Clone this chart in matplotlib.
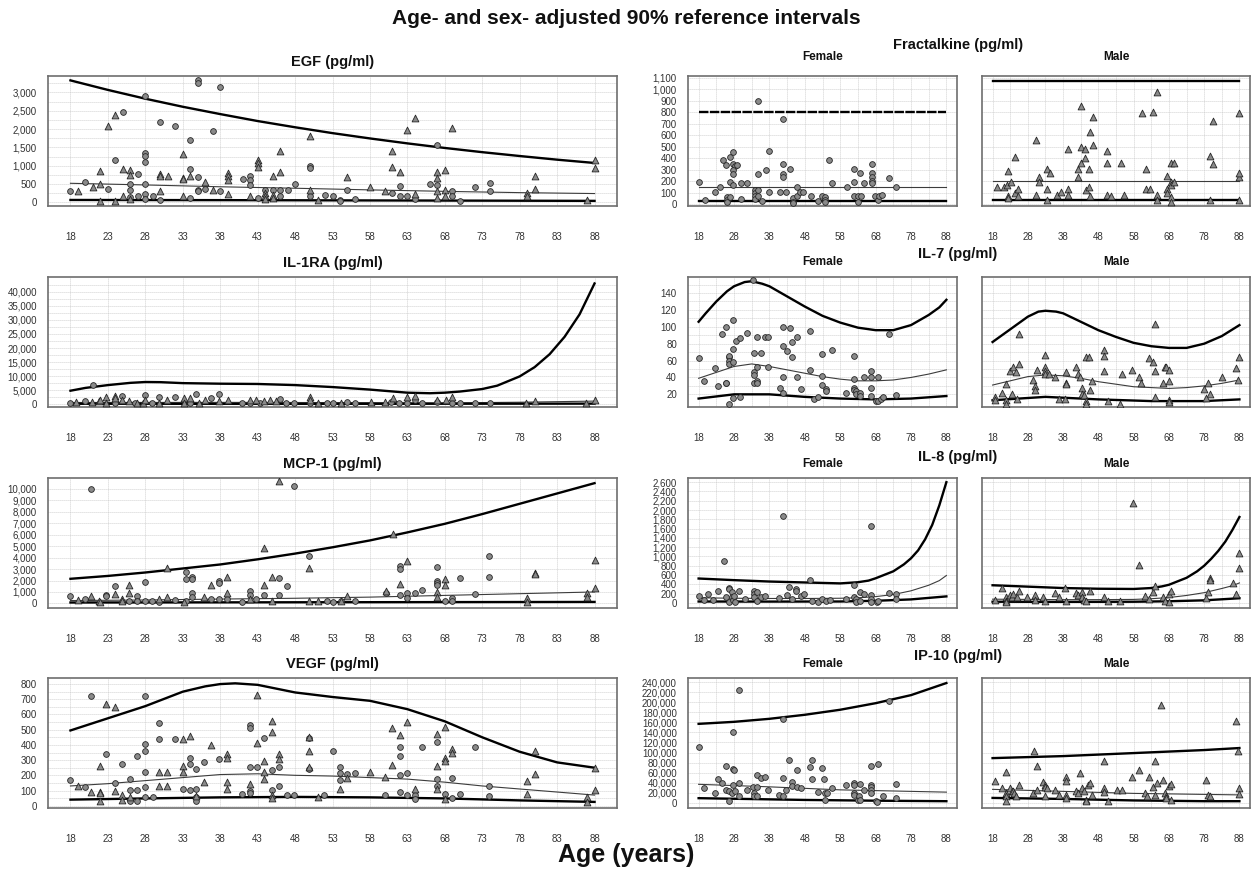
"""Age- and sex-adjusted 90% reference intervals, cytokine panels."""

import matplotlib
matplotlib.use("Agg")  # no display
import matplotlib.pyplot as plt
import numpy as np
from matplotlib.ticker import FuncFormatter

plt.rcParams["font.family"] = ["Liberation Sans", "DejaVu Sans"]

# ---------------------------------------------------------------- data
# points are (age, value); curves are (age, value) knots

# EGF (both sexes in one panel)
egf_female = [(18, 318), (20, 564), (23, 364), (24, 1145), (25, 2463), (26, 491), (26, 345), (26, 145),
              (27, 773), (27, 164), (28, 2891), (28, 1345), (28, 1273), (28, 1091), (28, 509), (28, 236),
              (28, 100), (29, 164), (30, 2191), (30, 73), (32, 2091), (34, 1691), (34, 909), (34, 118),
              (35, 3345), (35, 3254), (35, 691), (35, 345), (35, 300), (36, 364), (37, 1954), (38, 3145),
              (38, 300), (41, 636), (42, 709), (42, 618), (42, 482), (43, 118), (44, 345), (45, 345),
              (46, 345), (46, 182), (47, 327), (48, 509), (50, 982), (50, 936), (50, 164), (52, 209),
              (53, 164), (54, 73), (54, 27), (55, 345), (56, 100), (61, 254), (62, 436), (62, 164),
              (63, 164), (64, 91), (66, 491), (67, 1573), (67, 482), (69, 300), (69, 164), (70, 27),
              (72, 427), (74, 536), (74, 300)]
egf_male = [(19, 318), (21, 418), (22, 491), (22, 845), (22, 30), (23, 2073), (24, 2373), (24, 30),
            (25, 918), (25, 164), (26, 873), (26, 736), (26, 100), (30, 773), (30, 727), (30, 318),
            (31, 727), (33, 1327), (33, 664), (33, 636), (33, 164), (34, 709), (36, 545), (37, 327),
            (39, 800), (39, 727), (39, 618), (39, 236), (42, 164), (43, 1164), (43, 1073), (43, 964),
            (44, 254), (44, 164), (44, 91), (45, 727), (45, 209), (45, 118), (46, 1391), (46, 818),
            (50, 1818), (50, 345), (51, 73), (55, 691), (58, 409), (60, 300), (61, 1391), (61, 964),
            (62, 827), (63, 1982), (64, 2300), (64, 236), (67, 818), (67, 664), (67, 300), (67, 118),
            (68, 891), (68, 345), (68, 164), (69, 2027), (79, 264), (79, 164), (80, 718), (80, 355),
            (87, 73), (88, 1164), (88, 936)]
egf_upper = [(18, 3330), (23, 3070), (28, 2830), (33, 2610), (38, 2410), (43, 2220), (48, 2050), (53, 1890),
             (58, 1745), (63, 1610), (68, 1485), (73, 1370), (78, 1265), (83, 1165), (88, 1075)]
egf_median = [(18, 520), (28, 475), (38, 425), (48, 385), (58, 340), (68, 300), (78, 265), (88, 240)]
egf_lower = [(18, 65), (38, 60), (58, 52), (88, 40)]

# IL-1RA
il1ra_female = [(18, 600), (19.9, 1070), (21, 7000), (23.9, 400), (24.9, 3000), (26.6, 400), (28, 3200),
                (28.9, 300), (29.8, 2600), (32, 2500), (33.9, 500), (34.8, 3460), (36.8, 2270), (37.9, 3460),
                (40.9, 600), (42, 500), (43.3, 400), (46, 2000), (46.8, 500), (47.9, 400), (50, 400),
                (52.2, 400), (53, 300), (54.9, 800), (56, 400), (60.8, 800), (61.9, 500), (63, 500),
                (64, 1400), (64.9, 400), (67, 800), (68.9, 400), (70, 400), (72.1, 500), (74, 500)]
il1ra_male = [(18.8, 840), (20.9, 840), (21.8, 1070), (22, 1430), (22.8, 2630), (22.8, 600), (23.9, 2990),
              (23.9, 2030), (24.9, 1430), (25.8, 1070), (26.9, 600), (27.7, 600), (28, 1430), (29.8, 600),
              (30.9, 1430), (33.1, 2030), (33.1, 600), (33.9, 2030), (35.2, 600), (36, 1430), (37.9, 1070),
              (39, 1430), (42, 1430), (42.8, 1430), (43.8, 1070), (44.7, 1430), (45.5, 1070), (50, 2630),
              (50, 1430), (51.1, 600), (54.1, 600), (58.1, 700), (60, 700), (61.1, 2030), (63, 2630),
              (64, 2990), (67, 1430), (68.1, 1430), (68.9, 2630), (78.9, 600), (80, 1070), (86.9, 500),
              (88, 1670)]
il1ra_upper = [(18, 4800), (20, 5800), (23, 6800), (26, 7600), (28, 7900), (30, 7850), (33, 7500), (38, 7300),
               (43, 7200), (48, 6800), (53, 6100), (58, 5200), (63, 4100), (66, 3900), (68, 4100), (70, 4500),
               (73, 5400), (75, 6600), (78, 9900), (80, 13200), (82, 17800), (84, 24000), (86, 32000),
               (88, 43000)]
il1ra_median = [(18, 600), (38, 650), (58, 550), (68, 450), (78, 700), (88, 1100)]
il1ra_lower = [(18, 150), (48, 120), (88, 200)]

# MCP-1
mcp1_female = [(18, 690), (20, 400), (20.8, 10030), (22.8, 770), (22.8, 630), (23.9, 1490), (25.8, 250),
               (26.9, 630), (26.9, 200), (28, 1830), (28, 200), (28.9, 200), (29.8, 150), (32, 300),
               (33.4, 2780), (33.4, 2150), (33.4, 200), (34.3, 2350), (34.3, 2150), (34.3, 920), (34.3, 550),
               (36.8, 400), (37.9, 1920), (37.9, 1780), (37.9, 350), (38.9, 350), (40.9, 100), (42, 1060),
               (42, 770), (42.8, 350), (43.8, 700), (45.9, 2260), (45.9, 770), (46.9, 1550), (47.9, 10290),
               (49.9, 4150), (52.2, 250), (53, 100), (54.1, 200), (56, 250), (60.1, 920), (62, 3290),
               (62, 3000), (62, 770), (63, 920), (63, 490), (64, 920), (65, 1200), (67, 3150), (67, 1980),
               (67, 1780), (67, 1580), (68, 200), (69, 490), (69, 200), (70, 2210), (72, 860), (73.9, 4150),
               (73.9, 2290)]
mcp1_male = [(19, 290), (20.8, 630), (21.8, 200), (21.9, 100), (23.9, 830), (24.9, 350), (24.9, 200),
             (25.8, 1580), (25.8, 920), (29.8, 350), (30.9, 3070), (30.9, 570), (33.1, 100), (35.9, 570),
             (36.8, 1580), (38.9, 2290), (38.9, 920), (42, 350), (43.9, 4870), (43.9, 1580), (44.9, 2320),
             (44.9, 200), (45.9, 10660), (49.9, 3070), (49.9, 200), (51.1, 200), (54.1, 200), (54.9, 630),
             (60.1, 1060), (61.1, 6070), (62, 1720), (63, 3700), (67, 970), (67, 550), (68, 2150),
             (68, 1580), (79, 490), (79, 100), (80, 2640), (80, 2550), (87, 920), (87, 570), (88, 3780),
             (88, 1350)]
mcp1_upper = [(18, 2150), (23, 2400), (28, 2700), (33, 3050), (38, 3400), (43, 3850), (48, 4350), (53, 4900),
              (58, 5500), (63, 6200), (68, 6950), (73, 7800), (78, 8700), (83, 9600), (88, 10500)]
mcp1_median = [(18, 250), (28, 300), (38, 380), (48, 450), (58, 550), (68, 700), (78, 850), (88, 1000)]
mcp1_lower = [(18, 80), (48, 100), (88, 130)]

# VEGF
vegf_female = [(18, 168), (20, 126), (20.8, 720), (22.8, 338), (23.9, 148), (24.9, 272), (25.9, 174),
               (25.9, 102), (25.9, 28), (26.9, 327), (26.9, 102), (26.9, 33), (28, 720), (28, 403), (28, 360),
               (28, 222), (28, 120), (28, 55), (29, 55), (29.8, 545), (29.8, 436), (32, 436), (33, 109),
               (33.9, 316), (33.9, 272), (33.9, 102), (34.8, 240), (34.8, 109), (34.8, 55), (34.8, 33),
               (35.9, 288), (37.9, 305), (40.9, 76), (42, 534), (42, 512), (42, 255), (42, 98), (42, 83),
               (42.9, 255), (43.8, 443), (44.9, 233), (44.9, 102), (45.9, 257), (45.9, 131), (46.9, 72),
               (47.9, 72), (49.9, 443), (49.9, 240), (51.9, 72), (53, 360), (54, 255), (54, 218), (54, 170),
               (54.9, 211), (56, 218), (60, 72), (62, 386), (62, 327), (62, 203), (62, 87), (63, 218),
               (63, 72), (64, 72), (64, 44), (65, 386), (67, 421), (67, 174), (67, 131), (68, 76), (69, 185),
               (69, 50), (70, 76), (72, 386), (73.9, 131), (73.9, 65)]
vegf_male = [(19, 131), (20.8, 87), (21.9, 262), (21.9, 92), (21.9, 81), (21.9, 33), (22.8, 671), (23.9, 647),
             (23.9, 98), (24.9, 72), (24.9, 37), (25.9, 55), (29.8, 222), (29.8, 131), (30.9, 222),
             (30.9, 131), (33, 436), (33, 262), (33, 222), (33.9, 458), (34.8, 65), (35.9, 153), (36.8, 399),
             (38.9, 338), (38.9, 316), (38.9, 153), (38.9, 113), (42, 142), (42.9, 726), (42.9, 414),
             (43.8, 294), (43.8, 222), (43.8, 174), (44.9, 556), (44.9, 486), (44.9, 72), (44.9, 50),
             (45.9, 338), (45.9, 310), (49.9, 451), (49.9, 360), (49.9, 257), (51, 55), (54, 109),
             (54.9, 185), (58, 224), (60, 190), (61, 508), (61, 268), (62, 464), (63, 552), (64, 109),
             (67, 469), (67, 262), (67, 109), (68, 517), (68, 316), (68, 294), (68, 44), (69, 371), (69, 349),
             (79, 163), (79, 76), (80, 360), (80, 211), (87, 59), (87, 22), (88, 251), (88, 102)]
vegf_upper = [(18, 495), (23, 575), (28, 655), (33, 750), (36, 785), (38, 800), (40, 805), (43, 795), (48, 745),
              (53, 715), (58, 690), (63, 635), (68, 555), (73, 450), (78, 355), (83, 285), (88, 250)]
vegf_median = [(18, 130), (23, 145), (28, 165), (33, 185), (38, 205), (43, 210), (48, 200), (53, 195),
               (58, 185), (63, 175), (68, 155), (73, 130), (78, 110), (83, 90), (88, 70)]
vegf_lower = [(18, 40), (28, 48), (38, 55), (48, 58), (58, 55), (68, 48), (78, 35), (88, 25)]

# Fractalkine (split by sex)
frac_female = [(18, 191), (19.9, 35), (22.7, 110), (23.9, 153), (24.8, 387), (25.7, 344), (25.9, 66),
               (25.9, 38), (25.9, 23), (26.8, 407), (26.8, 197), (26.8, 66), (27.8, 451), (27.8, 350),
               (28.3, 330), (27.8, 300), (27.8, 265), (27.8, 170), (28.8, 344), (29.9, 46), (29.9, 182),
               (31.8, 182), (33.9, 125), (33.9, 100), (33.9, 75), (33.9, 45), (34.9, 900), (34.9, 266),
               (34.9, 124), (34.9, 75), (36, 26), (36.9, 295), (37.8, 462), (37.8, 110), (40.9, 110),
               (41.8, 745), (41.8, 350), (41.8, 263), (41.8, 237), (42.8, 110), (43.9, 303), (44.8, 52),
               (44.8, 23), (44.8, 9), (45.7, 147), (45.7, 75), (46.7, 110), (47.6, 110), (49.8, 75),
               (51.8, 32), (52.9, 75), (53.8, 66), (53.8, 38), (53.8, 17), (54.9, 387), (55.8, 182),
               (59.9, 153), (61.9, 303), (61.9, 191), (62, 75), (63, 75), (63, 23), (63.7, 269), (64, 75),
               (64.8, 182), (66.9, 347), (66.9, 269), (66.9, 234), (66.9, 202), (66.9, 182), (67.8, 75),
               (68.7, 38), (69, 75), (69.9, 81), (71.8, 231), (73.9, 153)]
frac_male = [(19.2, 154), (21.3, 154), (22.2, 168), (22.4, 293), (22.4, 75), (22.4, 52), (23.3, 191),
             (24.3, 412), (24.3, 96), (25.3, 130), (25.3, 75), (30.3, 560), (30.3, 81), (31.2, 235),
             (31.2, 191), (33.4, 38), (33.4, 305), (34.3, 276), (33.4, 133), (36.4, 81), (37.3, 104),
             (39.3, 479), (39.3, 130), (39.4, 81), (42.3, 305), (42.3, 235), (43.2, 502), (43.2, 856),
             (43.2, 357), (44.2, 481), (44.2, 400), (44.5, 125), (45.4, 154), (45.4, 305), (45.6, 626),
             (46.5, 757), (46.5, 516), (45.5, 75), (50.5, 467), (50.5, 357), (50.5, 81), (51.7, 75),
             (54.4, 357), (55.3, 81), (60.3, 792), (61.4, 305), (61.4, 133), (62.5, 134), (63.5, 806),
             (64.5, 974), (64.5, 81), (64.5, 38), (67.5, 247), (67.5, 133), (67.5, 96), (68.5, 191),
             (68.5, 168), (68.5, 67), (68.5, 17), (69.5, 191), (68.5, 357), (69.5, 357), (79.6, 423),
             (79.6, 38), (80.6, 725), (80.6, 348), (87.8, 241), (88, 276), (87.8, 38), (88, 792)]
frac_female_upper = [(18, 800), (88, 800)]
frac_female_median = [(18, 150), (88, 150)]
frac_female_lower = [(18, 27), (88, 27)]
frac_male_upper = [(18, 1070), (88, 1070)]
frac_male_median = [(18, 200), (88, 200)]
frac_male_lower = [(18, 38), (88, 38)]

# IL-7
il7_female = [(18, 62.5), (19.4, 35.5), (22.5, 51), (23.6, 30), (24.7, 92), (25.6, 100), (25.6, 34),
              (25.6, 33), (26.7, 64), (26.7, 66), (26.7, 60), (26.7, 56), (26.7, 9), (27.6, 108), (27.6, 73.6),
              (27.6, 58), (27.6, 16), (28.7, 83), (29.8, 87), (29.8, 17), (31.7, 93), (33.4, 155),
              (33.6, 68.5), (33.6, 46), (33.6, 42.6), (33.6, 34), (34.5, 88), (34.5, 36), (34.5, 33),
              (34.5, 52), (35.6, 68.5), (36.7, 88), (37.6, 88), (37.6, 52), (41, 28), (41.7, 99.5),
              (41.7, 77.6), (41.7, 40), (41.7, 22), (42.9, 71.6), (43.8, 98.7), (44.5, 81.6), (44.5, 63.7),
              (45.7, 88), (45.7, 40), (46.8, 26), (49.6, 95.5), (49.6, 48.6), (50.7, 14), (51.8, 17),
              (52.9, 67.7), (52.9, 42), (52.9, 31), (54, 26), (54, 24), (55.7, 72.4), (59.6, 21),
              (61.8, 65.7), (61.8, 38), (61.8, 28), (61.8, 25), (62.4, 24), (62.4, 20), (63.5, 22),
              (63.5, 18), (64.6, 40), (66.8, 48), (66.8, 40), (66.8, 28), (66.8, 18), (68, 12), (68.8, 40),
              (68.8, 12), (69.6, 14), (70, 17), (71.8, 92), (73.7, 19)]
il7_male = [(18.7, 17), (18.7, 13), (20.6, 21), (21.7, 32), (21.7, 13), (21.7, 9), (22.8, 48), (23.9, 52),
            (24.7, 46), (25.6, 92), (25.6, 56), (23.4, 20), (24.8, 14), (29.5, 37), (30, 30), (30, 25),
            (30.6, 48.6), (32.8, 67), (32.8, 52), (32.8, 48), (32.8, 44), (34, 44), (35.6, 40), (36.7, 14),
            (38.4, 14), (38.7, 46), (38.7, 34), (38.7, 32), (41.7, 52), (42.3, 44), (42.9, 40), (43.4, 28),
            (43.4, 20), (43.9, 19), (44.5, 12), (44.5, 9), (44.5, 64), (45.4, 64.5), (45.6, 25), (46.2, 36),
            (49.5, 72), (49.5, 66), (49.5, 48), (50.7, 12), (54, 9), (54.6, 44), (57.4, 48.6), (59.6, 40),
            (60.1, 34), (62.4, 62.5), (63.5, 58), (64, 103), (64, 48), (64, 17), (66.3, 33), (66.8, 52.6),
            (67.3, 52.6), (67.9, 48.6), (67.9, 36), (67.9, 13), (67.9, 11), (78, 26), (79, 34), (79.6, 20),
            (78.5, 16), (83, 41), (86.9, 51), (87.5, 37), (88, 63.7)]
il7_female_upper = [(18, 106), (20, 116), (23, 130), (26, 142), (28, 148), (31, 153), (33, 154), (36, 151),
                    (38, 148), (43, 136), (48, 124), (53, 113), (58, 105), (63, 99), (68, 96), (73, 96),
                    (78, 102), (83, 114), (86, 123), (88, 132)]
il7_female_median = [(18, 39), (23, 46), (28, 53), (33, 56), (38, 53), (43, 49), (48, 45), (53, 41), (58, 38),
                     (63, 36), (68, 36), (73, 37), (78, 40), (83, 44), (88, 49)]
il7_female_lower = [(18, 15), (28, 20), (38, 20), (48, 17), (58, 15), (68, 14), (78, 15), (88, 18)]
il7_male_upper = [(18, 82), (23, 97), (28, 112), (31, 118), (33, 119), (36, 118), (38, 116), (43, 106),
                  (48, 96), (53, 88), (58, 81), (63, 77), (68, 75), (73, 75), (78, 80), (83, 89), (88, 102)]
il7_male_median = [(18, 31), (23, 36), (28, 41), (33, 43), (38, 42), (43, 39), (48, 35), (53, 32), (58, 29),
                   (63, 28), (68, 27), (73, 28), (78, 30), (83, 33), (88, 37)]
il7_male_lower = [(18, 13), (33, 17), (48, 14), (63, 12), (78, 12), (88, 14)]

# IL-8
il8_female = [(18, 141), (19.4, 63), (20.6, 190), (22.2, 70), (23.6, 260), (25.2, 895), (25.6, 120),
              (26.5, 330), (26.5, 295), (26.5, 14), (27.3, 225), (27.3, 134), (27.6, 63), (28, 155),
              (28.3, 14), (29.5, 260), (31.2, 85), (33.6, 260), (33.6, 190), (33.6, 120), (34.5, 225),
              (34.5, 49), (35.6, 134), (36.7, 155), (40.6, 99), (41.7, 1881), (42.9, 176), (43.6, 345),
              (44.5, 85), (45.6, 296), (45.6, 247), (46.8, 155), (47.9, 190), (49.6, 493), (50.1, 49),
              (51.8, 28), (52.9, 85), (54, 49), (55.1, 63), (59.6, 85), (61.8, 388), (61.8, 134), (62.4, 85),
              (62.4, 14), (63.5, 49), (63.7, 225), (64.6, 190), (66.8, 1656), (66.8, 176), (66.8, 85),
              (66.8, 14), (68.5, 14), (68.8, 49), (71.8, 204), (73.7, 190), (73.7, 85)]
il8_male = [(18.7, 70), (20.6, 330), (21.7, 134), (21.7, 49), (21.7, 14), (22.8, 176), (23.4, 120),
            (23.9, 190), (24.8, 134), (25.6, 247), (27.8, 120), (30, 176), (30, 70), (32.3, 120), (32.8, 49),
            (35.6, 204), (36.7, 134), (38.4, 330), (38.7, 49), (41.7, 204), (42.3, 176), (43.4, 225),
            (43.4, 120), (43.9, 63), (44.5, 49), (45.6, 260), (49.5, 120), (50.7, 49), (54, 49), (57.9, 2149),
            (59.6, 824), (61.3, 155), (62.4, 85), (63.5, 225), (64, 366), (66.3, 120), (66.8, 49), (67.9, 190),
            (68.5, 247), (67.9, 14), (78.5, 99), (79, 225), (79.6, 542), (79.6, 486), (86.3, 437), (86.9, 190),
            (88, 1085), (88, 754)]
il8_female_upper = [(18, 525), (28, 490), (38, 460), (48, 440), (53, 430), (58, 420), (63, 445), (66, 480),
                    (68, 530), (70, 590), (73, 680), (76, 830), (78, 960), (80, 1130), (82, 1370), (84, 1680),
                    (86, 2100), (88, 2600)]
il8_female_median = [(18, 110), (28, 100), (38, 95), (48, 95), (58, 100), (63, 110), (68, 135), (73, 180),
                     (78, 260), (83, 380), (86, 480), (88, 590)]
il8_female_lower = [(18, 30), (38, 28), (58, 30), (68, 45), (78, 75), (88, 140)]
il8_male_upper = [(18, 380), (28, 350), (38, 320), (48, 305), (58, 300), (63, 320), (66, 355), (68, 390),
                  (70, 450), (73, 540), (76, 680), (78, 800), (80, 950), (82, 1120), (84, 1320), (86, 1570),
                  (88, 1850)]
il8_male_median = [(18, 80), (28, 75), (38, 70), (48, 70), (58, 75), (63, 90), (68, 115), (73, 160), (78, 220),
                   (83, 310), (86, 370), (88, 430)]
il8_male_lower = [(18, 25), (38, 22), (58, 25), (68, 35), (78, 55), (88, 100)]

# IP-10
ip10_female = [(18, 110900), (19.4, 29300), (22.5, 19600), (23.6, 47000), (24.7, 40400), (25.6, 73000),
               (25.6, 24800), (26.5, 22800), (26.7, 3300), (27.3, 19600), (27.6, 141500), (27.6, 66500),
               (27.6, 35900), (28, 65200), (28.3, 22800), (29.5, 225000), (29.5, 39100), (29.5, 13000),
               (31.7, 24800), (33.4, 32600), (33.6, 19600), (33.6, 14300), (34.5, 55400), (34.5, 31300),
               (34.5, 13000), (35.6, 48900), (36.7, 52200), (37.6, 26100), (40.6, 15000), (41.7, 48900),
               (41.7, 13000), (41.7, 167600), (42.6, 24800), (43.6, 86100), (44.5, 42400), (44.5, 33900),
               (45.7, 65200), (45.7, 32600), (46.8, 29300), (49.6, 71700), (49.9, 47000), (50.1, 86100),
               (51.8, 20900), (52.9, 68500), (53.4, 47000), (53.7, 19600), (53.7, 6500), (54.3, 19600),
               (55.7, 29300), (59.6, 35900), (61.8, 39100), (61.8, 35900), (61.8, 19600), (61.8, 16300),
               (62.9, 6500), (63.2, 13000), (63.7, 37800), (63.7, 6500), (64.6, 26100), (66.8, 73700),
               (66.8, 35900), (66.8, 30700), (66.8, 26100), (66.8, 19600), (68, 3300), (68.5, 1300),
               (68.8, 78300), (70, 14300), (71.8, 202000), (73.7, 37800), (73.7, 9800)]
ip10_male = [(18.7, 44400), (20.6, 29300), (21.7, 62000), (21.7, 19600), (21.7, 13000), (21.7, 3300),
             (22.8, 29300), (23.4, 22800), (23.9, 22800), (24.2, 19600), (24.7, 14300), (25.6, 35900),
             (29.5, 19600), (29.8, 102400), (30.6, 26100), (30.6, 73700), (32.3, 42400), (32.8, 35900),
             (32.8, 32600), (32.8, 13000), (33.4, 29300), (35.6, 26100), (36.7, 16300), (38.7, 52200),
             (38.7, 43700), (38.7, 16300), (38.7, 9800), (41.7, 24100), (42.3, 19600), (42.9, 58700),
             (43.4, 29300), (43.9, 22800), (44.5, 6500), (44.5, 3300), (45, 35900), (45.6, 40400),
             (46.2, 16300), (49.5, 83500), (49.5, 29300), (49.5, 20900), (50.7, 3300), (53.4, 26100),
             (54.6, 24800), (57.4, 52200), (59.6, 65200), (61.3, 19600), (61.9, 14300), (62.4, 52200),
             (63.5, 32600), (64, 83500), (64, 16300), (64.6, 39100), (66.3, 45700), (66.8, 19600),
             (67.3, 14300), (67.3, 9800), (67.9, 33900), (68.5, 37200), (65.7, 193700), (68.5, 6500),
             (78.5, 45700), (79, 16300), (79.6, 13000), (86.9, 163000), (87.5, 102400), (88, 29300),
             (88, 18300)]
ip10_female_upper = [(18, 157000), (28, 161000), (38, 167000), (48, 175000), (58, 185000), (68, 198000),
                     (78, 214000), (88, 238000)]
ip10_female_median = [(18, 37000), (38, 32000), (58, 26000), (78, 23000), (88, 21500)]
ip10_female_lower = [(18, 9500), (48, 6000), (68, 4500), (88, 3500)]
ip10_male_upper = [(18, 89000), (38, 93000), (58, 99000), (78, 105000), (88, 109000)]
ip10_male_median = [(18, 27000), (38, 23000), (58, 19000), (78, 17000), (88, 16000)]
ip10_male_lower = [(18, 10000), (38, 8000), (58, 5000), (78, 3500), (88, 3500)]

# ---------------------------------------------------------------- style
W, H = 1253, 873
ROW_TOPS = [76, 277, 478, 678]
ROW_H = 130
LEFT_X = (48, 617)
FEMALE_X = (688, 957)
MALE_X = (982, 1250)

FILL = "#8a8a8a"
EDGE = "#262626"
GRID = "#c2c2c2"


def rect(x0, x1, top):
    return [x0 / W, 1 - (top + ROW_H) / H, (x1 - x0) / W, ROW_H / H]


def style_axes(ax, ylim, ystep, ytop, ystart, split, yminor):
    ax.set_xlim(15, 91)
    ax.set_ylim(*ylim)
    if split:
        ax.set_xticks(range(18, 89, 10))
        ax.set_xticks(range(23, 84, 10), minor=True)
    else:
        ax.set_xticks(range(18, 89, 5))
    ax.set_yticks(np.arange(ystart, ytop + 1, ystep))
    if yminor:
        ax.set_yticks(np.arange(ystart + ystep / 2, ylim[1], ystep), minor=True)
    ax.grid(True, which="both", color=GRID, linestyle=(0, (1, 1.4)), linewidth=0.6)
    ax.set_axisbelow(True)
    ax.tick_params(which="both", length=0, labelsize=7, labelcolor="#333333")
    ax.tick_params(axis="x", pad=19)
    ax.tick_params(axis="y", pad=8)
    ax.yaxis.set_major_formatter(FuncFormatter(lambda v, _: f"{v:,.0f}"))
    for s in ax.spines.values():
        s.set_color("#6e6e6e")
        s.set_linewidth(1.2)


def draw_points(ax, pts, marker):
    xs, ys = zip(*pts)
    size = 17 if marker == "o" else 24
    ax.scatter(xs, ys, s=size, marker=marker, facecolor=FILL, edgecolor=EDGE,
               linewidth=0.6, zorder=3)


def draw_curves(ax, upper, median, lower, dashed_upper=False):
    for pts, lw, col in ((upper, 1.7, "black"), (median, 0.8, "#3c3c3c"), (lower, 1.7, "black")):
        xs, ys = zip(*pts)
        ls = (0, (4, 0.6)) if (dashed_upper and pts is upper) else "-"
        ax.plot(xs, ys, color=col, linewidth=lw, linestyle=ls, zorder=2)


fig = plt.figure(figsize=(W / 100, H / 100), dpi=100)
fig.patch.set_facecolor("white")

left_panels = [
    ("EGF (pg/ml)", egf_female, egf_male, egf_upper, egf_median, egf_lower, (-100, 3450), 500, 3000, 0, True),
    ("IL-1RA (pg/ml)", il1ra_female, il1ra_male, il1ra_upper, il1ra_median, il1ra_lower,
     (-1000, 45300), 5000, 40000, 0, True),
    ("MCP-1 (pg/ml)", mcp1_female, mcp1_male, mcp1_upper, mcp1_median, mcp1_lower,
     (-400, 10950), 1000, 10000, 0, False),
    ("VEGF (pg/ml)", vegf_female, vegf_male, vegf_upper, vegf_median, vegf_lower, (-15, 840), 100, 800, 0, True),
]

right_panels = [
    ("Fractalkine (pg/ml)", frac_female, frac_male,
     (frac_female_upper, frac_female_median, frac_female_lower),
     (frac_male_upper, frac_male_median, frac_male_lower), (-15, 1115), 100, 1100, 0, False),
    ("IL-7 (pg/ml)", il7_female, il7_male,
     (il7_female_upper, il7_female_median, il7_female_lower),
     (il7_male_upper, il7_male_median, il7_male_lower), (5, 159), 20, 140, 20, True),
    ("IL-8 (pg/ml)", il8_female, il8_male,
     (il8_female_upper, il8_female_median, il8_female_lower),
     (il8_male_upper, il8_male_median, il8_male_lower), (-110, 2690), 200, 2600, 0, False),
    ("IP-10 (pg/ml)", ip10_female, ip10_male,
     (ip10_female_upper, ip10_female_median, ip10_female_lower),
     (ip10_male_upper, ip10_male_median, ip10_male_lower), (-10000, 248000), 20000, 240000, 0, False),
]

title_kw = dict(fontsize=10.5, fontweight="bold", ha="center", va="center", color="#111111")
sub_kw = dict(fontsize=8.5, fontweight="bold", ha="center", va="center", color="#111111")
title_off = [31, 23, 21, 22]
sub_off = [19, 15, 14, 14]

for top, (name, fem, mal, up, med, low, ylim, step, ytop, ystart, minor) in zip(ROW_TOPS, left_panels):
    ax = fig.add_axes(rect(*LEFT_X, top))
    style_axes(ax, ylim, step, ytop, ystart, False, minor)
    draw_points(ax, fem, "o")
    draw_points(ax, mal, "^")
    draw_curves(ax, up, med, low)
    fig.text(sum(LEFT_X) / 2 / W, 1 - (top - 14) / H, name, **title_kw)

for i, (top, spec) in enumerate(zip(ROW_TOPS, right_panels)):
    name, fem, mal, fcurves, mcurves, ylim, step, ytop, ystart, minor = spec
    axf = fig.add_axes(rect(*FEMALE_X, top))
    axm = fig.add_axes(rect(*MALE_X, top))
    for ax in (axf, axm):
        style_axes(ax, ylim, step, ytop, ystart, True, minor)
    axm.tick_params(axis="y", labelleft=False)
    draw_points(axf, fem, "o")
    draw_points(axm, mal, "^")
    draw_curves(axf, *fcurves, dashed_upper=(i == 0))
    draw_curves(axm, *mcurves)
    fig.text(958 / W, 1 - (top - title_off[i]) / H, name, **title_kw)
    fig.text(sum(FEMALE_X) / 2 / W, 1 - (top - sub_off[i]) / H, "Female", **sub_kw)
    fig.text(sum(MALE_X) / 2 / W, 1 - (top - sub_off[i]) / H, "Male", **sub_kw)

fig.text(0.5, 1 - 18 / H, "Age- and sex- adjusted 90% reference intervals",
         fontsize=15, fontweight="bold", ha="center", va="center", color="#111111")
fig.text(0.5, 1 - 855 / H, "Age (years)", fontsize=18, fontweight="bold",
         ha="center", va="center", color="#111111")

fig.savefig("out.png", dpi=100, facecolor="white")
